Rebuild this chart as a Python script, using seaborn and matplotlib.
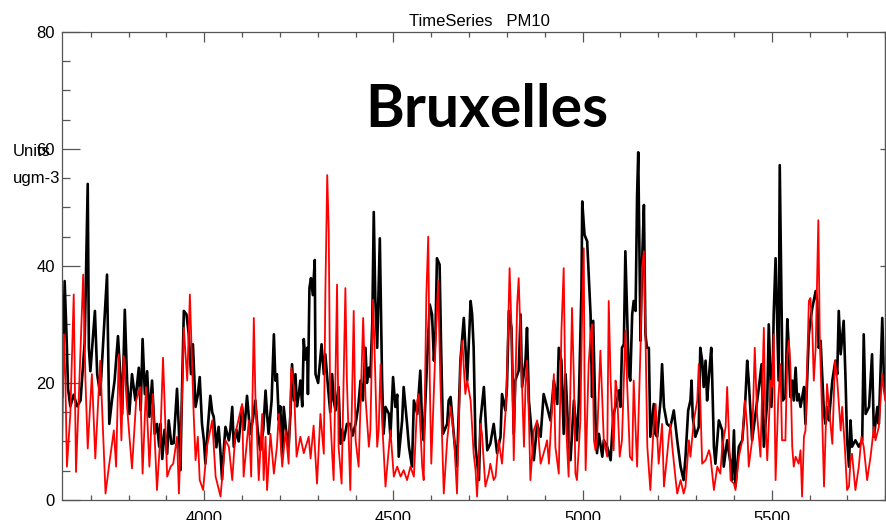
import matplotlib
matplotlib.use("Agg")
import matplotlib.pyplot as plt
from matplotlib.ticker import MultipleLocator
import pandas as pd
import seaborn as sns

sns.set_style("white")
plt.rcParams["font.family"] = ["Liberation Sans", "DejaVu Sans"]
plt.rcParams["text.color"] = "black"

# Hourly PM10 at the Bruxelles station (hour of year, ugm-3)
obs_hours = [
    3625, 3631, 3636, 3640, 3646, 3655, 3664, 3673, 3684, 3692, 3695, 3699, 3711, 3717, 3725, 3737,
    3743, 3749, 3756, 3763, 3772, 3778, 3783, 3790, 3796, 3802, 3809, 3818, 3827, 3832, 3837, 3843,
    3849, 3855, 3862, 3869, 3875, 3881,
    3884, 3889, 3895, 3902, 3906, 3913, 3919, 3928, 3933, 3937, 3941, 3946, 3953, 3959, 3965, 3970,
    3977, 3983, 3988, 3994, 3999, 4003, 4009, 4016, 4021, 4025, 4032, 4038, 4043, 4047, 4052, 4056,
    4065, 4069, 4074, 4078, 4085, 4091, 4100, 4106, 4113, 4118, 4122, 4129, 4135, 4141, 4148, 4156,
    4162, 4166, 4170, 4178, 4184, 4188, 4192, 4197, 4201, 4206, 4210, 4216, 4223, 4228, 4232, 4237,
    4241, 4245, 4250, 4254, 4259, 4263, 4267, 4272, 4274, 4278, 4282, 4287, 4292, 4294, 4301, 4310,
    4316, 4320, 4327, 4333, 4338, 4342, 4347, 4355, 4360, 4364, 4369, 4377, 4386, 4392, 4400, 4407,
    4413, 4419, 4426, 4430, 4435,
    4439, 4444, 4448, 4452, 4457, 4464, 4470, 4474, 4479, 4488, 4492, 4499, 4505, 4510, 4514, 4523,
    4527, 4536, 4541, 4549, 4554, 4563, 4571, 4576, 4580, 4589, 4596, 4602, 4607, 4611, 4615, 4622,
    4626, 4631, 4642, 4646, 4651, 4660, 4668, 4677, 4686, 4695, 4704, 4708, 4712,
    4717, 4726, 4730, 4739, 4748, 4756, 4765, 4774, 4783, 4787, 4796, 4800, 4805, 4812, 4818, 4822,
    4831, 4836, 4840, 4849, 4853, 4858, 4867, 4871, 4880, 4889, 4897, 4906, 4915, 4924, 4933, 4937,
    4944, 4950, 4955, 4963, 4968, 4977, 4985, 4990, 4997,
    4999, 5005, 5012, 5016, 5021, 5025, 5028, 5034, 5038, 5043, 5052, 5056, 5065, 5074, 5078, 5082,
    5091, 5096, 5100, 5104, 5109, 5113, 5118, 5122, 5126, 5131, 5135, 5140, 5144, 5147, 5151, 5153,
    5157, 5162, 5166, 5170, 5175, 5179, 5188, 5192, 5197, 5206, 5210, 5215, 5223, 5232, 5241, 5250,
    5259, 5267,
    5272, 5279, 5285, 5288, 5291, 5298, 5307, 5311, 5316, 5320, 5325, 5329, 5333, 5340, 5342, 5347,
    5351, 5360, 5369, 5373, 5382, 5391, 5395, 5400, 5404, 5413, 5422, 5430, 5435, 5439, 5448, 5457,
    5466, 5473, 5479, 5488, 5492, 5499, 5503, 5505, 5510, 5514, 5518, 5521, 5526, 5529,
    5536, 5541, 5545, 5549, 5554, 5558, 5563, 5567, 5571, 5576, 5585, 5589, 5598, 5602, 5607, 5616,
    5620, 5624, 5629, 5633, 5638, 5642, 5646, 5651, 5660, 5668, 5673, 5677, 5682, 5690, 5695, 5699,
    5704, 5708, 5712, 5721, 5730, 5739, 5743, 5748, 5757, 5765, 5770, 5779, 5783, 5787, 5792, 5796,
    5800,
]
obs_pm10 = [
    17.6, 37.4, 28.0, 19.0, 16.0, 18.0, 16.0, 17.0, 27.0, 54.0, 26.0, 22.0, 32.3, 21.5, 18.0, 31.7,
    38.5, 13.0, 17.0, 20.4, 28.0, 21.5, 14.7, 32.5, 20.4, 14.7, 21.5, 17.0, 22.6, 15.3, 27.5, 18.1,
    22.0, 14.2, 20.4, 11.3, 13.0, 9.1,
    13.0, 7.0, 12.0, 7.9, 13.6, 9.6, 9.7, 19.0, 11.9, 5.1, 18.1, 32.3, 31.7, 28.3, 21.5, 26.6,
    15.9, 18.0, 21.0, 13.0, 10.2, 6.2, 12.0, 17.8, 15.0, 14.2, 9.0, 12.5, 8.0, 3.5, 9.0, 12.5,
    10.2, 12.0, 15.9, 9.1, 12.0, 10.0, 15.9, 12.0, 17.8, 14.0, 11.3, 14.0, 17.0, 12.0, 8.5, 12.0,
    18.7, 14.7, 11.3, 17.0, 28.3, 20.4, 21.5, 13.6, 16.0, 7.4, 15.9, 12.0, 9.1, 15.0, 23.2, 17.0,
    21.5, 16.0, 18.1, 20.4, 16.0, 27.5, 24.0, 26.0, 18.1, 36.2, 37.9, 35.0, 41.0, 21.5, 20.0, 26.6,
    21.5, 24.9, 19.3, 15.0, 21.5, 17.0, 15.3, 19.3, 9.6, 12.0, 10.2, 13.0, 13.0, 11.0, 13.0, 16.0,
    20.4, 17.0, 26.0, 20.0, 22.6,
    21.0, 30.0, 49.2, 34.5, 26.0, 44.7, 20.4, 11.3, 15.9, 14.7, 10.8, 21.0, 15.9, 18.0, 7.4, 13.6,
    19.3, 13.0, 9.1, 5.7, 17.0, 14.7, 22.1, 12.5, 10.2, 23.8, 33.4, 31.7, 23.8, 28.3, 41.3, 40.2,
    26.0, 11.3, 13.0, 17.0, 17.6, 10.8, 5.7, 23.8, 31.1, 20.4, 34.0, 31.7, 26.0,
    9.1, 3.4, 13.6, 19.3, 8.5, 9.6, 13.0, 8.0, 10.8, 18.1, 15.3, 19.3, 32.3, 29.4, 11.3, 20.4,
    22.1, 31.7, 19.3, 23.8, 29.4, 17.0, 10.2, 6.8, 13.0, 10.8, 18.1, 15.9, 13.6, 20.4, 16.4, 26.0,
    23.8, 11.3, 21.5, 10.2, 6.8, 17.0, 10.2, 17.0, 36.2,
    51.0, 45.3, 44.2, 38.5, 31.7, 17.6, 30.6, 13.6, 8.0, 11.3, 7.4, 10.2, 9.1, 6.8, 11.3, 14.7,
    17.0, 18.7, 15.9, 26.0, 26.6, 42.5, 30.6, 21.5, 20.4, 31.7, 34.0, 32.3, 52.1, 59.4, 37.4, 27.2,
    40.2, 50.4, 28.3, 26.0, 26.0, 10.8, 16.4, 11.3, 10.8, 17.0, 23.2, 15.9, 13.0, 12.5, 15.3, 10.2,
    5.7, 3.4,
    7.4, 15.3, 17.0, 20.4, 14.2, 10.8, 12.5, 26.0, 23.8, 19.3, 23.8, 17.0, 20.4, 26.0, 22.1, 9.1,
    6.2, 13.6, 11.9, 5.7, 10.2, 6.2, 3.4, 11.9, 2.3, 9.1, 10.2, 17.0, 23.8, 20.4, 10.2, 14.7,
    19.3, 23.2, 9.1, 17.0, 30.0, 15.9, 23.8, 31.7, 41.3, 30.6, 20.4, 57.2, 31.7, 17.0,
    17.6, 30.9, 26.0, 17.6, 20.4, 17.0, 22.6, 17.0, 18.1, 15.9, 19.3, 13.0, 28.3, 30.6, 32.8, 35.7,
    34.0, 26.0, 27.2, 21.5, 14.7, 13.0, 15.9, 13.6, 20.4, 23.8, 21.5, 32.3, 24.9, 30.6, 20.4, 10.2,
    5.7, 13.6, 9.1, 10.2, 9.1, 10.2, 28.3, 14.7, 15.9, 24.9, 10.8, 15.9, 13.0, 21.0, 31.1, 21.5,
    18.1,
]

mod_hours = [
    3624, 3629, 3633, 3637, 3646, 3655, 3661, 3670, 3680, 3686, 3692, 3703, 3712, 3725, 3739, 3748,
    3761, 3767, 3774, 3781, 3787, 3796, 3809, 3820, 3831, 3837, 3846, 3855, 3864, 3875,
    3884, 3891, 3902, 3911, 3918, 3928, 3933, 3940, 3946, 3955, 3962, 3968, 3972, 3977, 3983, 3988,
    3997, 4007, 4021, 4030, 4043, 4056, 4065, 4074, 4082, 4100, 4104, 4118, 4124, 4131, 4135, 4144,
    4153, 4157,
    4162, 4166, 4175, 4184, 4192, 4197, 4206, 4215, 4223, 4230, 4237, 4244, 4254, 4263, 4276, 4281,
    4289, 4298, 4307, 4316, 4320, 4325, 4329, 4333, 4338, 4342, 4351, 4355, 4363, 4373, 4377, 4386,
    4395, 4400, 4408, 4420, 4426, 4435,
    4439, 4446, 4450, 4457, 4461, 4466, 4470, 4479, 4488, 4492, 4501, 4510, 4519, 4527, 4536, 4545,
    4554, 4563, 4567, 4576, 4580, 4587, 4592, 4596, 4600, 4611, 4618, 4624, 4633, 4642, 4651, 4660,
    4668, 4677, 4682, 4690, 4695, 4704, 4712,
    4717, 4721, 4730, 4734, 4743, 4752, 4756, 4765, 4770, 4778, 4787, 4796, 4800, 4807, 4812, 4818,
    4827, 4831, 4836, 4845, 4849, 4853, 4858, 4862, 4871, 4880, 4889, 4902, 4906, 4911, 4924, 4928,
    4937, 4944, 4950, 4955, 4959, 4963, 4972, 4977, 4981, 4985,
    4994, 4999, 5003, 5005, 5008, 5016, 5021, 5025, 5030, 5034, 5038, 5047, 5052, 5056, 5065, 5069,
    5074, 5082, 5087, 5091, 5098, 5104, 5109, 5113, 5118, 5125, 5131, 5135, 5144, 5153, 5157, 5162,
    5166, 5171, 5179, 5188, 5193, 5201, 5210, 5215, 5223, 5228, 5232, 5237, 5245, 5250, 5259, 5263,
    5267,
    5272, 5281, 5285, 5294, 5303, 5307, 5311, 5316, 5325, 5334, 5338, 5347, 5356, 5364, 5369, 5378,
    5382, 5386, 5391, 5400, 5404, 5413, 5422, 5429, 5435, 5439, 5448, 5455, 5461, 5466, 5470, 5479,
    5483, 5488, 5497, 5501, 5505, 5510, 5517, 5523, 5527,
    5536, 5541, 5545, 5549, 5554, 5558, 5563, 5571, 5576, 5580, 5585, 5589, 5598, 5602, 5607, 5611,
    5616, 5623, 5627, 5633, 5638, 5646, 5651, 5660, 5667, 5673, 5682, 5686, 5693, 5699, 5704, 5708,
    5712, 5721, 5730, 5737, 5743, 5752, 5761, 5770, 5774, 5783, 5792, 5796, 5800,
]
mod_pm10 = [
    7.9, 28.3, 20.4, 5.7, 14.7, 35.1, 4.8, 20.4, 38.5, 20.4, 8.8, 21.5, 7.1, 23.8, 1.1, 5.7,
    11.9, 5.7, 24.9, 10.2, 24.6, 15.9, 5.4, 17.0, 19.3, 4.5, 19.3, 5.7, 18.1, 1.7,
    10.8, 24.3, 4.0, 5.7, 6.2, 10.8, 1.1, 14.7, 29.4, 20.4, 35.1, 23.2, 14.7, 6.8, 10.8, 3.4,
    1.7, 9.1, 13.6, 4.0, 0.6, 10.2, 9.1, 3.4, 11.3, 16.4, 4.0, 13.6, 4.0, 31.1, 18.1, 3.4,
    14.7, 3.4,
    10.8, 1.7, 11.3, 4.5, 9.1, 14.7, 5.7, 11.9, 6.2, 22.6, 19.3, 7.4, 10.8, 8.0, 10.8, 7.1,
    12.7, 2.8, 14.7, 7.9, 35.1, 55.5, 45.9, 14.7, 7.9, 3.4, 36.8, 9.1, 2.8, 36.2, 20.4, 1.7,
    32.3, 10.2, 5.7, 31.1, 17.6, 9.1,
    11.9, 34.2, 26.0, 9.1, 11.9, 23.2, 13.6, 2.3, 9.1, 11.9, 4.0, 5.7, 4.0, 5.1, 3.4, 5.7,
    4.0, 17.0, 18.1, 5.7, 3.4, 35.1, 45.0, 20.4, 6.2, 26.0, 37.4, 20.4, 1.1, 10.2, 15.9, 10.8,
    1.1, 23.8, 27.2, 18.1, 20.4, 17.0, 7.9,
    5.1, 0.6, 13.0, 11.3, 2.3, 4.5, 6.2, 3.4, 4.0, 10.2, 6.2, 14.7, 21.0, 39.6, 29.4, 6.8,
    33.4, 37.9, 27.7, 9.1, 19.3, 23.8, 14.2, 3.4, 11.9, 13.6, 6.2, 9.1, 10.2, 6.2, 21.5, 9.1,
    4.5, 28.9, 39.6, 14.7, 9.1, 4.0, 32.8, 20.4, 4.5, 3.4,
    13.6, 32.8, 43.0, 20.4, 5.1, 23.2, 28.3, 30.0, 10.2, 8.5, 10.2, 25.5, 17.0, 10.2, 7.4, 34.0,
    20.4, 8.5, 20.4, 18.7, 7.4, 10.2, 20.4, 28.9, 19.3, 7.4, 6.8, 20.4, 5.7, 26.0, 39.6, 42.5,
    28.9, 9.1, 1.7, 13.0, 16.4, 6.2, 13.0, 2.3, 7.4, 10.8, 13.0, 9.1, 4.0, 1.1, 3.4, 2.3,
    1.1,
    2.3, 10.2, 7.4, 13.6, 17.0, 23.2, 17.0, 6.2, 6.8, 8.5, 7.4, 1.7, 5.7, 4.5, 9.1, 12.5,
    19.3, 12.5, 3.4, 2.8, 1.7, 7.4, 10.2, 17.0, 12.5, 5.7, 10.2, 26.0, 14.7, 10.8, 7.4, 29.4,
    13.6, 6.8, 20.4, 19.3, 28.3, 3.4, 17.0, 23.2, 10.2,
    10.2, 24.9, 27.2, 23.2, 9.1, 5.7, 7.4, 6.2, 8.5, 0.6, 10.8, 11.9, 34.0, 34.5, 29.4, 20.4,
    26.0, 47.8, 27.2, 14.7, 2.3, 19.8, 15.9, 9.6, 23.8, 20.4, 11.9, 15.9, 9.1, 1.7, 2.3, 6.8,
    7.9, 1.7, 5.7, 10.8, 9.1, 3.4, 7.4, 12.5, 10.2, 12.5, 21.5, 18.7, 17.0,
]

station = "Bruxelles"
plot_title = "TimeSeries   PM10"
unit_lines = ["Units", "ugm-3"]
x_range = (3624, 5800)
y_range = (0, 80)
y_major_ticks = [0, 20, 40, 60, 80]

obs = pd.DataFrame({"hour": obs_hours, "pm10": obs_pm10})
mod = pd.DataFrame({"hour": mod_hours, "pm10": mod_pm10})

W, H = 886, 520
fig = plt.figure(figsize=(W / 100, H / 100), dpi=100)
ax = fig.add_axes([62 / W, 20 / H, (885.3 - 62) / W, (500 - 31.7) / H])

sns.lineplot(data=obs, x="hour", y="pm10", color="black", linewidth=1.9,
             estimator=None, sort=False, ax=ax)
sns.lineplot(data=mod, x="hour", y="pm10", color="#ff0000", linewidth=1.3,
             estimator=None, sort=False, ax=ax)

ax.set_xlim(*x_range)
ax.set_ylim(*y_range)
ax.set_xlabel("")
ax.set_ylabel("")

axis_grey = "#555555"
for side in ["left", "right", "top", "bottom"]:
    ax.spines[side].set_visible(True)
    ax.spines[side].set_color(axis_grey)
    ax.spines[side].set_linewidth(0.9)

ax.xaxis.set_major_locator(MultipleLocator(500))
ax.xaxis.set_minor_locator(MultipleLocator(100))
ax.yaxis.set_major_locator(MultipleLocator(20))
ax.yaxis.set_minor_locator(MultipleLocator(5))

ax.tick_params(axis="x", which="major", direction="in", length=7.5, width=0.9,
               color=axis_grey, top=True, bottom=True, labelsize=12, pad=8,
               labelcolor="black")
ax.tick_params(axis="x", which="minor", direction="in", length=3.8, width=0.9,
               color=axis_grey, top=True, bottom=True)
ax.tick_params(axis="y", which="major", direction="in", length=13, width=0.9,
               color=axis_grey, left=True, right=False, labelsize=12, pad=5,
               labelcolor="black")
ax.tick_params(axis="y", which="minor", direction="in", length=6, width=0.9,
               color=axis_grey, left=True, right=False)

# short major ticks only along the right edge
rax = ax.secondary_yaxis("right")
rax.set_yticks(y_major_ticks)
rax.tick_params(axis="y", which="both", direction="in", length=3.6, width=0.9,
                color=axis_grey, labelright=False)
rax.yaxis.set_minor_locator(MultipleLocator(1000))
rax.spines["right"].set_color(axis_grey)
rax.spines["right"].set_linewidth(0.9)

fig.text(479.5 / W, 1 - 26 / H, plot_title, ha="center", va="baseline",
         fontsize=12, color="black")
fig.text(13 / W, 1 - 156.5 / H, unit_lines[0], ha="left", va="baseline",
         fontsize=12, color="black")
fig.text(13 / W, 1 - 183 / H, unit_lines[1], ha="left", va="baseline",
         fontsize=12, color="black")
fig.text(487 / W, 1 - 127 / H, station, ha="center", va="baseline",
         fontsize=42.5, fontweight="bold", color="black",
         family=["Lato", "DejaVu Sans"])

fig.savefig("out.png", dpi=100)
